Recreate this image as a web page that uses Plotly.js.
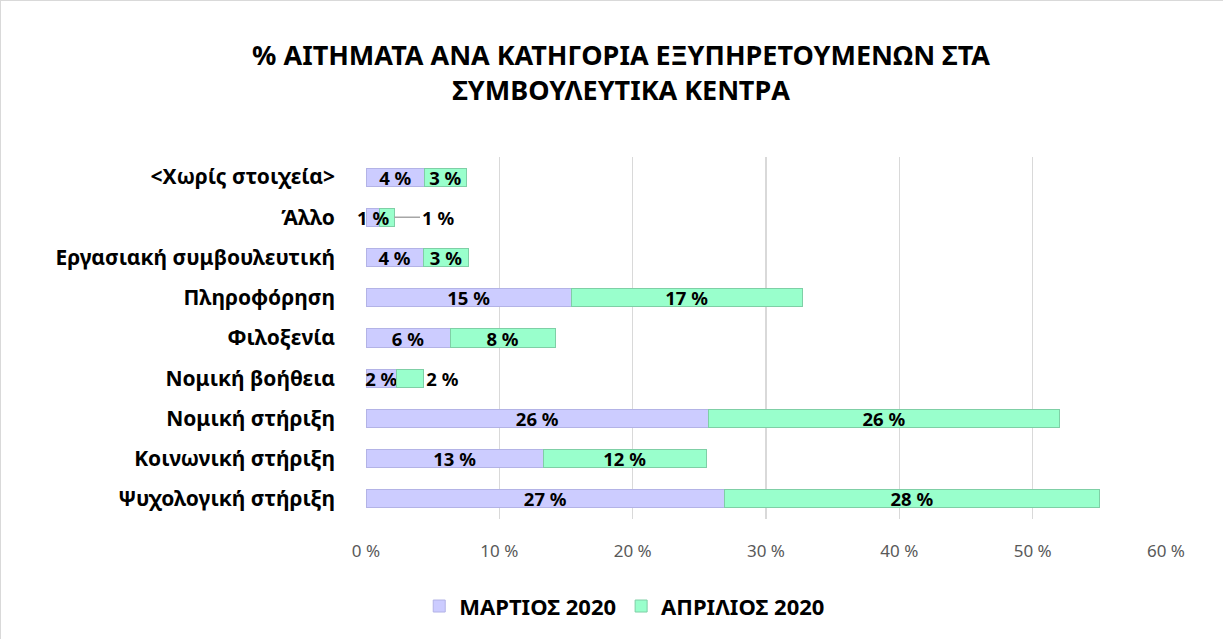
<!DOCTYPE html>
<html>
<head>
<meta charset="utf-8">
<script src="https://cdn.plot.ly/plotly-3.0.1.min.js"></script>
<style>
html,body{margin:0;padding:0;background:#fff;}
#chart{width:1223px;height:639px;box-sizing:border-box;border:1px solid #d9d9d9;}
</style>
</head>
<body>
<div id="chart"></div>
<script>
const categories = ["Ψυχολογική στήριξη","Κοινωνική στήριξη","Νομική στήριξη","Νομική βοήθεια","Φιλοξενία","Πληροφόρηση","Εργασιακή συμβουλευτική","Άλλο","<Χωρίς στοιχεία>"];
const march2020 = [26.9, 13.3, 25.7, 2.3, 6.3, 15.4, 4.3, 1.0, 4.4];
const april2020 = [28.1, 12.2, 26.3, 2.0, 7.9, 17.3, 3.4, 1.1, 3.1];
const seriesNames = ["ΜΑΡΤΙΟΣ 2020","ΑΠΡΙΛΙΟΣ 2020"];
const xTicks = [0,10,20,30,40,50,60];

const fam = "'Noto Sans', 'Open Sans', sans-serif";
const labelFont = {family: fam, size: 18.5, color: "#000", weight: "bold"};
const fmt = v => Math.round(v) + " %";

const iOther = categories.indexOf("Άλλο");
const marchPos = categories.map(c => c === "Άλλο" ? "none" : "inside");
const aprilPos = categories.map(c => c === "Άλλο" ? "none" : (c === "Νομική βοήθεια" ? "outside" : "inside"));

const traces = [
  {
    type: "bar", orientation: "h", name: seriesNames[0],
    y: categories, x: march2020,
    marker: {color: "#CCCCFF", line: {color: "#b3b3e6", width: 1}},
    text: march2020.map(fmt), textposition: marchPos, insidetextanchor: "middle",
    textangle: 0, constraintext: "none", textfont: labelFont, cliponaxis: false,
    hoverinfo: "x+y"
  },
  {
    type: "bar", orientation: "h", name: seriesNames[1],
    y: categories, x: april2020,
    marker: {color: "#99FFCC", line: {color: "#7fcfa6", width: 1}},
    text: april2020.map(fmt), textposition: aprilPos, insidetextanchor: "middle",
    textangle: 0, constraintext: "none", textfont: labelFont, outsidetextfont: labelFont, cliponaxis: false,
    hoverinfo: "x+y"
  }
];

const layout = {
  width: 1223, height: 639,
  paper_bgcolor: "#fff", plot_bgcolor: "#fff",
  barmode: "stack", bargap: 0.55,
  margin: {l: 365, r: 58, t: 156, b: 121},
  title: {
    text: "% ΑΙΤΗΜΑΤΑ ΑΝΑ ΚΑΤΗΓΟΡΙΑ ΕΞΥΠΗΡΕΤΟΥΜΕΝΩΝ ΣΤΑ<br>ΣΥΜΒΟΥΛΕΥΤΙΚΑ ΚΕΝΤΡΑ",
    font: {family: fam, size: 27, color: "#000", weight: "bold"},
    x: 0.507, xref: "container", xanchor: "center",
    y: 0.9, yref: "container", yanchor: "top"
  },
  xaxis: {
    range: [0, 60], tickvals: xTicks, ticktext: xTicks.map(v => v + " %"),
    showgrid: true, gridcolor: "#d9d9d9", gridwidth: 1.5,
    zeroline: false, showline: false,
    tickfont: {family: fam, size: 17, color: "#595959"},
    ticks: "", ticklabelstandoff: 20
  },
  yaxis: {
    categoryorder: "array", categoryarray: categories,
    showgrid: false, zeroline: false, showline: false, ticks: "",
    tickfont: {family: fam, size: 21, color: "#000", weight: "bold"},
    ticklabelstandoff: 30
  },
  legend: {
    orientation: "h", xref: "container", x: 0.51, xanchor: "center",
    yref: "container", y: 0.02, yanchor: "bottom",
    font: {family: fam, size: 22, color: "#000", weight: "bold"},
    itemwidth: 30, traceorder: "normal"
  },
  annotations: [
    {
      x: march2020[iOther] / 2, y: categories[iOther],
      xref: "x", yref: "y",
      text: fmt(march2020[iOther]), showarrow: false, xanchor: "center",
      font: labelFont
    },
    {
      x: march2020[iOther] + april2020[iOther], y: categories[iOther],
      xref: "x", yref: "y",
      text: fmt(april2020[iOther]), showarrow: true, arrowhead: 0, arrowwidth: 1.5,
      arrowcolor: "#a6a6a6", ax: 26, ay: 0, xanchor: "left",
      font: labelFont
    }
  ],
  showlegend: true
};

Plotly.newPlot("chart", traces, layout, {displayModeBar: false, staticPlot: true});
</script>
</body>
</html>
